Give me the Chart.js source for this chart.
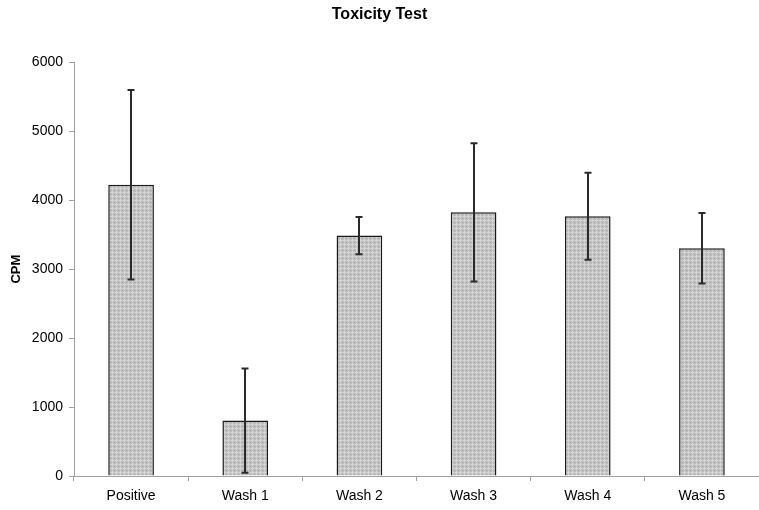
<!DOCTYPE html>
<html>
<head>
<meta charset="utf-8">
<script src="https://cdn.jsdelivr.net/npm/chart.js@4.4.1/dist/chart.umd.min.js"></script>
<style>
html,body{margin:0;padding:0;background:#fff;}
#wrap{width:759px;height:510px;position:relative;}
</style>
</head>
<body>
<div id="wrap"><canvas id="c" width="759" height="510"></canvas></div>
<script>
const categories = ["Positive", "Wash 1", "Wash 2", "Wash 3", "Wash 4", "Wash 5"];
const cpmValues = [4222, 803, 3487, 3823, 3767, 3302];
const cpmErrors = [1374, 755, 270, 1003, 630, 510];
const yTicks = [0, 1000, 2000, 3000, 4000, 5000, 6000];

function makePattern() {
  const p = document.createElement('canvas');
  p.width = 4; p.height = 4;
  const g = p.getContext('2d');
  g.fillStyle = '#bcbcbc';
  g.fillRect(0, 0, 4, 4);
  g.fillStyle = '#d6d6d6';
  g.fillRect(0, 0, 4, 1);
  g.fillRect(0, 0, 1, 4);
  g.fillStyle = '#acacac';
  g.fillRect(2, 2, 1, 1);
  g.fillStyle = '#c8c8c8';
  g.fillRect(2, 0, 1, 1);
  g.fillRect(0, 2, 1, 1);
  return document.getElementById('c').getContext('2d').createPattern(p, 'repeat');
}

const errorBars = {
  id: 'errorBars',
  afterDatasetsDraw(chart) {
    const ctx = chart.ctx;
    const meta = chart.getDatasetMeta(0);
    const ys = chart.scales.y;
    ctx.save();
    ctx.strokeStyle = '#2a2a2a';
    ctx.lineWidth = 2;
    meta.data.forEach((bar, i) => {
      const x = Math.round(bar.x);
      const top = ys.getPixelForValue(cpmValues[i] + cpmErrors[i]);
      const bot = ys.getPixelForValue(cpmValues[i] - cpmErrors[i]);
      ctx.beginPath();
      ctx.moveTo(x, top); ctx.lineTo(x, bot);
      ctx.moveTo(x - 3.5, top); ctx.lineTo(x + 3.5, top);
      ctx.moveTo(x - 3.5, bot); ctx.lineTo(x + 3.5, bot);
      ctx.stroke();
    });
    ctx.restore();
  }
};

Chart.defaults.font.family = '"Liberation Sans", Arial, sans-serif';
Chart.defaults.color = '#000';

new Chart(document.getElementById('c'), {
  type: 'bar',
  data: {
    labels: categories,
    datasets: [{
      data: cpmValues,
      backgroundColor: makePattern(),
      borderColor: '#1a1a1a',
      borderWidth: 1.5,
      borderSkipped: 'bottom',
      categoryPercentage: 1.0,
      barPercentage: 0.4
    }]
  },
  options: {
    responsive: false,
    animation: false,
    layout: { padding: { left: 0, right: 0, top: 0, bottom: 0 } },
    plugins: {
      legend: { display: false },
      tooltip: { enabled: false },
      title: {
        display: true,
        text: 'Toxicity Test',
        font: { size: 16, weight: 'bold' },
        color: '#000',
        padding: { top: 5, bottom: 38 }
      }
    },
    scales: {
      x: {
        grid: { display: true, drawOnChartArea: false, drawTicks: true, tickLength: 5, color: '#a0a0a0', offset: true },
        border: { display: true, color: '#a0a0a0', width: 1 },
        ticks: { font: { size: 14 }, color: '#000', padding: 7, maxRotation: 0 },
        afterFit(s) { s.height = 34; }
      },
      y: {
        min: 0, max: 6000,
        afterBuildTicks(s) { s.ticks = yTicks.map(v => ({ value: v })); },
        grid: { display: true, drawOnChartArea: false, drawTicks: true, tickLength: 5, color: '#a0a0a0' },
        border: { display: true, color: '#a0a0a0', width: 1 },
        ticks: { font: { size: 14 }, color: '#000', padding: 6, callback: (v) => String(v) },
        title: { display: true, text: 'CPM', font: { size: 13, weight: 'bold' }, color: '#000', padding: { top: 9, bottom: 4 } },
        afterFit(s) { s.width = 74; }
      }
    }
  },
  plugins: [errorBars]
});
</script>
</body>
</html>
